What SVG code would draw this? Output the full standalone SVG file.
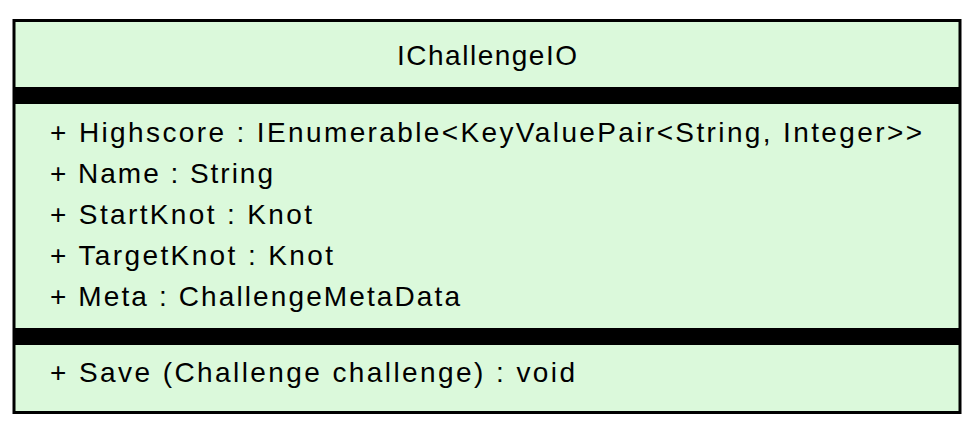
<svg xmlns="http://www.w3.org/2000/svg" width="975" height="433" viewBox="0 0 975 433">
<style>
.t{font-family:"Liberation Sans",Arial,sans-serif;font-size:28px;fill:#000}
</style>
<rect width="975" height="433" fill="#fff"/>
<g id="IChallengeIO">
<rect x="14" y="20.5" width="946" height="392" fill="#dbf9db" stroke="#000" stroke-width="3"/>
<rect x="14" y="87" width="946" height="17" fill="#000"/>
<rect x="14" y="328" width="946" height="17" fill="#000"/>
<text class="t" x="397" y="65" textLength="180" lengthAdjust="spacing">IChallengeIO</text>
<text class="t" x="50" y="142" textLength="872" lengthAdjust="spacing">+ Highscore : IEnumerable&lt;KeyValuePair&lt;String, Integer&gt;&gt;</text>
<text class="t" x="50" y="183" textLength="223" lengthAdjust="spacing">+ Name : String</text>
<text class="t" x="50" y="224" textLength="262" lengthAdjust="spacing">+ StartKnot : Knot</text>
<text class="t" x="50" y="265" textLength="283" lengthAdjust="spacing">+ TargetKnot : Knot</text>
<text class="t" x="50" y="306" textLength="410" lengthAdjust="spacing">+ Meta : ChallengeMetaData</text>
<text class="t" x="50" y="382" textLength="525" lengthAdjust="spacing">+ Save (Challenge challenge) : void</text>
</g>
<g id="connectors"/>
</svg>
